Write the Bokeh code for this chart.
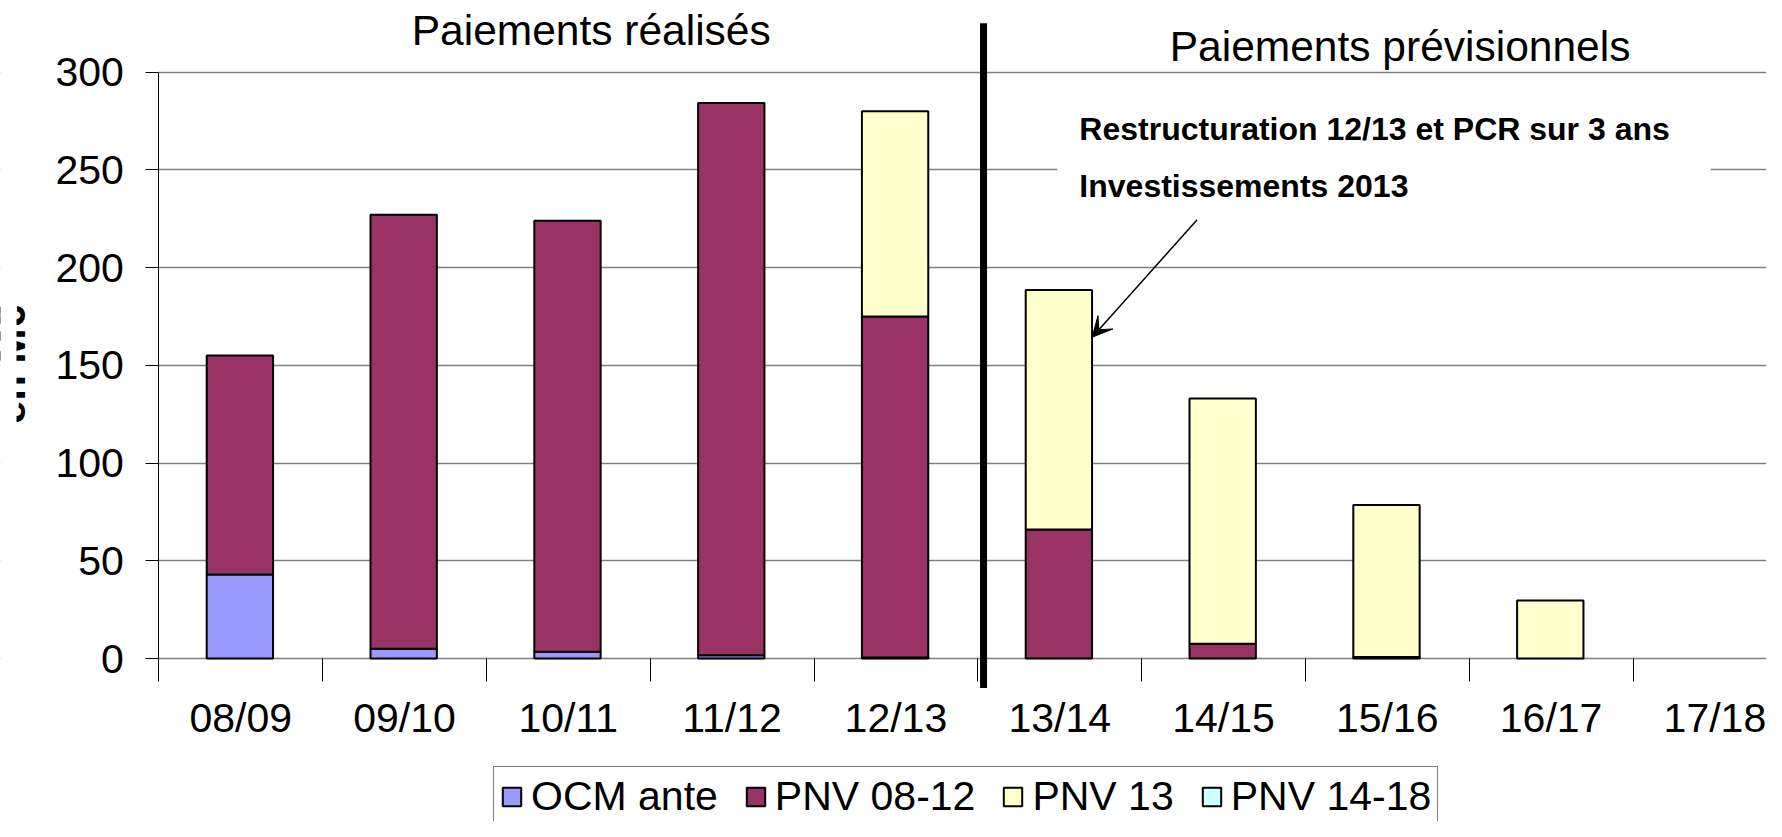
import numpy as np
from bokeh.plotting import figure
from bokeh.models import (Range1d, LinearAxis, FixedTicker, Label, Arrow, VeeHead,
                          BoxAnnotation, Legend, LegendItem, ColumnDataSource)
from bokeh.embed import file_html
from bokeh.resources import INLINE

# ---------------- data ----------------
categories = ["08/09", "09/10", "10/11", "11/12", "12/13",
              "13/14", "14/15", "15/16", "16/17", "17/18"]
ocm_ante = [43, 5, 3.5, 1.7, 0.5, 0, 0, 0, 0, 0]
pnv_08_12 = [112, 222, 220.5, 282.5, 174.5, 66, 7.6, 0.8, 0, 0]
pnv_13 = [0, 0, 0, 0, 105, 122.5, 125.5, 77.7, 29.7, 0]
pnv_14_18 = [0, 0, 0, 0, 0, 0, 0, 0, 0, 0]
series_names = ["OCM ante", "PNV 08-12", "PNV 13", "PNV 14-18"]
series_values = [ocm_ante, pnv_08_12, pnv_13, pnv_14_18]
series_colors = ["#9999FF", "#993366", "#FFFFCC", "#CCFFFF"]
y_ticks = [0, 50, 100, 150, 200, 250, 300]
title_left = "Paiements réalisés"
title_right = "Paiements prévisionnels"
note_lines = ["Restructuration 12/13 et PCR sur 3 ans", "Investissements 2013"]
y_label = "en M€"

# ---------------- layout ----------------
W, H = 1766, 821
AXIS_PX = 158.3                 # canvas x of the value axis
PX_PER_UNIT = 586.3 / 300.0
Y_ZERO_PX = 658.0
Y_TOP = Y_ZERO_PX / PX_PER_UNIT
Y_BOTTOM = -(H - Y_ZERO_PX) / PX_PER_UNIT
CAT_PX = 163.8
X_START = -AXIS_PX / CAT_PX
X_END = (W - AXIS_PX) / CAT_PX
FONT = "Liberation Sans"


def px_to_x(px):
    return (px - AXIS_PX) / CAT_PX


p = figure(width=W, height=H, x_range=Range1d(X_START, X_END), y_range=Range1d(Y_BOTTOM, Y_TOP),
           x_axis_type=None, toolbar_location=None, output_backend="svg",
           min_border_left=0, min_border_right=0, min_border_top=0, min_border_bottom=0,
           outline_line_color=None, background_fill_color="white", border_fill_color="white")

# y axis, drawn at x = 0 inside the frame
yax = p.yaxis[0]
yax.fixed_location = 0
yax.ticker = FixedTicker(ticks=y_ticks, minor_ticks=[])
yax.bounds = (0, 300)
yax.major_tick_out = 13
yax.major_tick_in = 0
yax.major_tick_line_color = "black"
yax.axis_line_color = "black"
yax.major_label_standoff = 22
yax.major_label_text_font = FONT
yax.major_label_text_font_size = "41px"
yax.major_label_text_color = "black"

p.ygrid.ticker = FixedTicker(ticks=y_ticks)
p.ygrid.grid_line_color = "#7f7f7f"
p.ygrid.grid_line_width = 1.5

# hide grid lines left of the value axis
p.add_layout(BoxAnnotation(right=0, fill_color="white", fill_alpha=1.0, line_color=None,
                           level="underlay"))

# x axis (labels at category centres, ticks at boundaries)
n = len(categories)
centers = [i + 0.5 for i in range(n)]
bounds_ticks = list(range(n + 1))
xax = LinearAxis(ticker=FixedTicker(ticks=centers, minor_ticks=bounds_ticks),
                 fixed_location=0)
xax.major_label_overrides = {c: lab for c, lab in zip(centers, categories)}
xax.major_tick_line_color = None
xax.major_tick_out = 0
xax.major_tick_in = 0
xax.minor_tick_out = 23
xax.minor_tick_in = 0
xax.minor_tick_line_color = "black"
xax.axis_line_color = None
xax.major_label_standoff = 13
xax.major_label_text_font = FONT
xax.major_label_text_font_size = "41px"
xax.major_label_text_color = "black"
p.add_layout(xax, "below")

# stacked bars (zero segments are not drawn)
x_pos = np.arange(n) + 0.495
stack = np.zeros(n)
renderers = []
for name, vals, color in zip(series_names, series_values, series_colors):
    v = np.array(vals, dtype=float)
    mask = v > 0
    src = ColumnDataSource(dict(x=x_pos,
                                bottom=np.where(mask, stack, np.nan),
                                top=np.where(mask, stack + v, np.nan)))
    r = p.vbar(x="x", bottom="bottom", top="top", width=0.405, source=src,
               fill_color=color, line_color="black", line_width=2)
    renderers.append(r)
    stack = stack + v

# white box behind the note
p.add_layout(BoxAnnotation(left=5.485, right=9.475, bottom=212, top=288,
                           fill_color="white", fill_alpha=1.0, line_color=None))

# divider between realised and forecast
div_x = categories.index("13/14") + 0.035
p.segment(x0=[div_x], y0=[-15.1], x1=[div_x], y1=[325.0], line_color="black", line_width=7)

# titles
p.add_layout(Label(x=2.64, y=321.5, text=title_left, text_align="center",
                   text_baseline="alphabetic", text_font=FONT, text_font_size="42.5px",
                   text_color="black"))
p.add_layout(Label(x=7.578, y=312.9, text=title_right, text_align="center",
                   text_baseline="alphabetic", text_font=FONT, text_font_size="42.5px",
                   text_color="black"))

# note
for txt, yv in zip(note_lines, [270.9, 241.9]):
    p.add_layout(Label(x=5.62, y=yv, text=txt, text_align="left", text_baseline="alphabetic",
                       text_font=FONT, text_font_size="32px", text_font_style="bold",
                       text_color="black"))
p.add_layout(Arrow(end=VeeHead(size=20, line_color="black", fill_color="black", line_width=1),
                   x_start=6.339, y_start=224.5, x_end=5.698, y_end=164.4,
                   line_width=1.5, line_color="black"))

# y axis title, only its right edge shows
p.add_layout(Label(x=px_to_x(10), y=150.4, text=y_label, angle=np.pi / 2,
                   text_align="center", text_baseline="alphabetic", text_font=FONT,
                   text_font_size="42px", text_font_style="bold", text_color="black"))
p.add_layout(BoxAnnotation(right=px_to_x(16), bottom=80, top=220, fill_color="white",
                           fill_alpha=1.0, line_color=None, level="overlay"))

# legend
legend = Legend(items=[LegendItem(label=nm, renderers=[r]) for nm, r in zip(series_names, renderers)],
                orientation="horizontal", location=(493, -5.5),
                glyph_width=23, glyph_height=23, label_standoff=8, spacing=26,
                padding=6, margin=0, label_text_font=FONT, label_text_font_size="41px",
                label_text_color="black", border_line_color="black", border_line_width=1,
                background_fill_color="white", background_fill_alpha=1.0)
p.add_layout(legend)

open("out.html", "w").write(file_html(p, INLINE))
